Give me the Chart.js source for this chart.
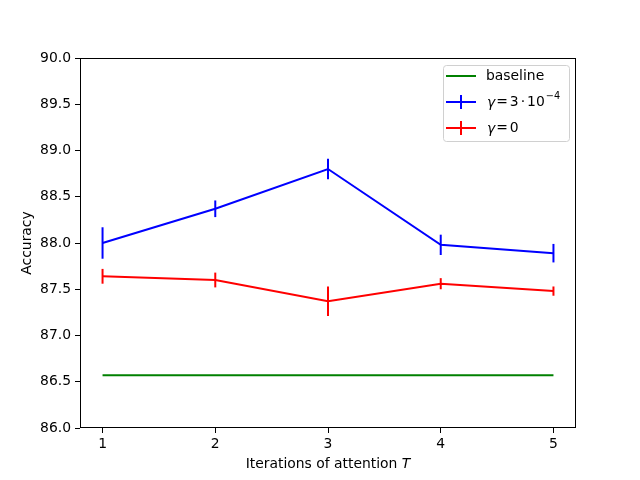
<!DOCTYPE html>
<html>
<head>
<meta charset="utf-8">
<script src="https://cdn.jsdelivr.net/npm/chart.js@4/dist/chart.umd.min.js"></script>
<style>
  html, body { margin: 0; padding: 0; background: #fff; }
  canvas { display: block; }
</style>
</head>
<body>
<canvas id="chart" width="640" height="480"></canvas>
<script>
// valores
const iterations = [1, 2, 3, 4, 5];
const gammaAcc = [88.00, 88.37, 88.80, 87.98, 87.89];
const gammaErr = [0.17, 0.09, 0.11, 0.11, 0.10];
const zeroAcc = [87.64, 87.60, 87.37, 87.56, 87.48];
const zeroErr = [0.08, 0.08, 0.16, 0.06, 0.05];
const baselineAcc = [86.57, 86.57, 86.57, 86.57, 86.57];
const xTicks = [1, 2, 3, 4, 5];
const yTicks = [86.0, 86.5, 87.0, 87.5, 88.0, 88.5, 89.0, 89.5, 90.0];

const FONT = 'DejaVu Sans';
const FS = 13.9;

const pts = (ys) => iterations.map((x, i) => ({ x, y: ys[i] }));

const errorBars = {
  id: 'errorBars',
  afterDatasetsDraw(chart) {
    const { ctx, scales: { x, y } } = chart;
    chart.data.datasets.forEach(ds => {
      if (!ds.errors) return;
      ctx.save();
      ctx.strokeStyle = ds.borderColor;
      ctx.lineWidth = 2;
      ds.data.forEach((p, i) => {
        const px = x.getPixelForValue(p.x);
        ctx.beginPath();
        ctx.moveTo(px, y.getPixelForValue(p.y - ds.errors[i]));
        ctx.lineTo(px, y.getPixelForValue(p.y + ds.errors[i]));
        ctx.stroke();
      });
      ctx.restore();
    });
  },
};

const decorations = {
  id: 'decorations',
  afterDraw(chart) {
    const { ctx, chartArea: a } = chart;
    ctx.save();
    // moldura
    ctx.strokeStyle = '#000';
    ctx.lineWidth = 1;
    ctx.strokeRect(a.left + 0.5, a.top + 0.5, a.right - a.left - 1, a.bottom - a.top - 1);

    // rótulo do eixo x com T em itálico
    ctx.fillStyle = '#000';
    ctx.textBaseline = 'alphabetic';
    const t1 = 'Iterations of attention ';
    ctx.font = `italic ${FS}px "${FONT}"`;
    const wT = ctx.measureText('T').width;
    ctx.font = `${FS}px "${FONT}"`;
    const w1 = ctx.measureText(t1).width;
    const cx = (a.left + a.right) / 2;
    const sx = cx - (w1 + wT) / 2;
    ctx.textAlign = 'left';
    ctx.fillText(t1, sx, 468);
    ctx.font = `italic ${FS}px "${FONT}"`;
    ctx.fillText('T', sx + w1, 468);

    // rótulo do eixo y
    ctx.font = `${FS}px "${FONT}"`;
    ctx.translate(31, (a.top + a.bottom) / 2);
    ctx.rotate(-Math.PI / 2);
    ctx.textAlign = 'center';
    ctx.fillText('Accuracy', 0, 0);
    ctx.restore();

    // legenda
    ctx.save();
    ctx.beginPath();
    ctx.roundRect(443.5, 65.5, 126, 76, 3);
    ctx.fillStyle = 'rgba(255,255,255,0.8)';
    ctx.fill();
    ctx.strokeStyle = '#d0d0d0';
    ctx.lineWidth = 1;
    ctx.stroke();

    const rows = [
      { color: '#008000', err: false, y: 76 },
      { color: '#0000ff', err: true, y: 102 },
      { color: '#ff0000', err: true, y: 128 },
    ];
    rows.forEach(r => {
      ctx.strokeStyle = r.color;
      ctx.lineWidth = 2;
      ctx.beginPath();
      ctx.moveTo(446, r.y);
      ctx.lineTo(476, r.y);
      ctx.stroke();
      if (r.err) {
        ctx.beginPath();
        ctx.moveTo(461, r.y - 7);
        ctx.lineTo(461, r.y + 7);
        ctx.stroke();
      }
    });

    ctx.fillStyle = '#000';
    ctx.textAlign = 'left';
    ctx.textBaseline = 'middle';
    ctx.font = `${FS}px "${FONT}"`;
    ctx.fillText('baseline', 486, 76);

    const drawGamma = (parts, y, sup) => {
      ctx.font = `italic ${FS}px "${FONT}"`;
      ctx.fillText('γ', 487, y + 1);
      let x = 487 + ctx.measureText('γ').width + 1;
      ctx.font = `${FS}px "${FONT}"`;
      parts.forEach((p, i) => {
        ctx.fillText(p, x, y);
        x += ctx.measureText(p).width + (i < parts.length - 1 ? 2 : 0);
      });
      if (sup) {
        ctx.font = `${FS * 0.7}px "${FONT}"`;
        ctx.fillText(sup, x + 1, y - 6);
      }
    };
    drawGamma(['=', '3', '·', '10'], 102, '−4');
    drawGamma(['=', '0'], 128, null);
    ctx.restore();
  },
};

const axisTicks = () => ({
  drawOnChartArea: false,
  drawTicks: true,
  tickLength: 5,
  color: '#000',
  tickColor: '#000',
});

new Chart(document.getElementById('chart'), {
  type: 'line',
  data: {
    datasets: [
      { label: 'baseline', data: pts(baselineAcc), borderColor: '#008000', borderWidth: 2, pointRadius: 0, tension: 0 },
      { label: 'γ = 3·10⁻⁴', data: pts(gammaAcc), errors: gammaErr, borderColor: '#0000ff', borderWidth: 2, pointRadius: 0, tension: 0 },
      { label: 'γ = 0', data: pts(zeroAcc), errors: zeroErr, borderColor: '#ff0000', borderWidth: 2, pointRadius: 0, tension: 0 },
    ],
  },
  options: {
    responsive: false,
    animation: false,
    devicePixelRatio: 1,
    layout: { padding: { top: 58, right: 64, left: 0, bottom: 0 } },
    plugins: { legend: { display: false }, tooltip: { enabled: false } },
    scales: {
      x: {
        type: 'linear',
        min: 0.8,
        max: 5.2,
        afterBuildTicks: s => { s.ticks = xTicks.map(v => ({ value: v })); },
        afterFit: s => { s.height = 52; },
        ticks: { color: '#000', font: { family: FONT, size: FS }, padding: 3, maxRotation: 0, callback: v => String(v) },
        grid: axisTicks(),
        border: { display: false },
      },
      y: {
        type: 'linear',
        min: 86,
        max: 90,
        afterBuildTicks: s => { s.ticks = yTicks.map(v => ({ value: v })); },
        afterFit: s => { s.width = 80; },
        ticks: { color: '#000', font: { family: FONT, size: FS }, padding: 4, callback: v => (+v).toFixed(1) },
        grid: axisTicks(),
        border: { display: false },
      },
    },
  },
  plugins: [errorBars, decorations],
});
</script>
</body>
</html>
